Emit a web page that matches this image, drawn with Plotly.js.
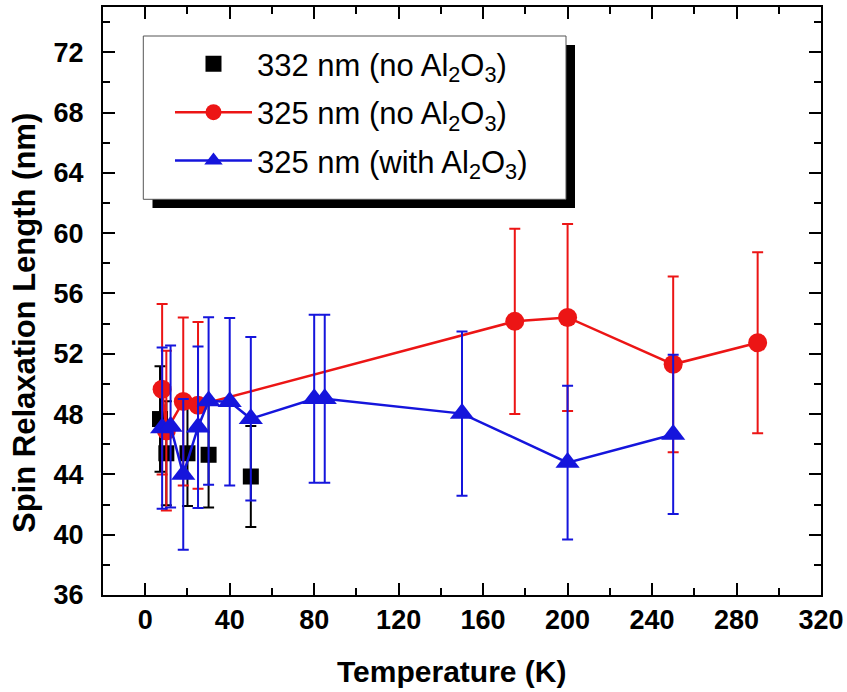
<!DOCTYPE html>
<html>
<head>
<meta charset="utf-8">
<script src="https://cdn.plot.ly/plotly-3.0.1.min.js"></script>
<style>html,body{margin:0;padding:0;background:#fff;}#chart{width:847px;height:692px;}</style>
</head>
<body>
<div id="chart"></div>
<script>
// Series: 332 nm (no Al2O3)
const tBlack = [7, 10, 20, 30, 50];
const lBlack = [47.67, 45.4, 45.4, 45.3, 43.86];
const eBlack = [3.5, 3.45, 3.5, 3.5, 3.35];

// Series: 325 nm (no Al2O3)
const tRed = [8, 10, 18, 25, 175, 200, 250, 290];
const lRed = [49.65, 46.9, 48.84, 48.58, 54.15, 54.41, 51.3, 52.73];
const eRed = [5.65, 5.3, 5.57, 5.53, 6.15, 6.2, 5.83, 6.0];

// Series: 325 nm (with Al2O3)
const tBlue = [8, 12, 18, 25, 30, 40, 50, 80, 85, 150, 200, 250];
const lBlue = [47.07, 47.18, 44.0, 47.13, 48.87, 48.82, 47.69, 49.02, 49.02, 48.03, 44.78, 46.65];
const eBlue = [5.35, 5.37, 5.0, 5.36, 5.56, 5.55, 5.42, 5.57, 5.57, 5.45, 5.1, 5.28];

const names = [
  '332 nm (no Al<sub>2</sub>O<sub>3</sub>)',
  '325 nm (no Al<sub>2</sub>O<sub>3</sub>)',
  '325 nm (with Al<sub>2</sub>O<sub>3</sub>)'
];

const xTicks = [0, 40, 80, 120, 160, 200, 240, 280, 320];
const yTicks = [36, 40, 44, 48, 52, 56, 60, 64, 68, 72];

const xTitle = 'Temperature (K)';
const yTitle = 'Spin Relaxation Length (nm)';

const FONT = 'Liberation Sans, Arial, Helvetica, sans-serif';

const traces = [
  {
    x: tBlack, y: lBlack, name: names[0], legendgroup: 'a', type: 'scatter', mode: 'markers',
    marker: {symbol: 'square', size: 16, color: '#000000'},
    error_y: {type: 'data', array: eBlack, visible: true, color: '#000000', thickness: 2, width: 5.5}
  },
  {
    x: tRed, y: lRed, name: names[1], legendgroup: 'b', type: 'scatter', mode: 'lines+markers',
    line: {color: '#ec1515', width: 2.5},
    marker: {symbol: 'circle', size: 19, color: '#ec1515'},
    error_y: {type: 'data', array: eRed, visible: true, color: '#ec1515', thickness: 2, width: 5.5}
  },
  {
    x: tBlue, y: lBlue, name: names[2], legendgroup: 'c', type: 'scatter', mode: 'lines+markers',
    line: {color: '#1515dc', width: 2.5},
    marker: {symbol: 'triangle-up', size: 21, color: '#1515dc'},
    error_y: {type: 'data', array: eBlue, visible: true, color: '#1515dc', thickness: 2, width: 5.5}
  }
];

const axisCommon = {
  showline: true, linecolor: '#000', linewidth: 2, mirror: 'allticks',
  ticks: 'inside', ticklen: 12, tickwidth: 2, tickcolor: '#000',
  showgrid: false, zeroline: false,
  tickfont: {family: FONT, size: 27, color: '#000', weight: 'bold'}
};

const layout = {
  width: 847, height: 692,
  margin: {l: 103, r: 26, t: 7, b: 97},
  paper_bgcolor: '#fff', plot_bgcolor: '#fff',
  showlegend: true,
  xaxis: Object.assign({}, axisCommon, {
    range: [-20, 320], tickmode: 'array', tickvals: xTicks, ticktext: xTicks.map(String),
    ticklabelstandoff: 0,
    minor: {dtick: 20, ticks: 'inside', ticklen: 7, tickwidth: 2, tickcolor: '#000', showgrid: false}
  }),
  yaxis: Object.assign({}, axisCommon, {
    range: [36, 75], tickmode: 'array', tickvals: yTicks, ticktext: yTicks.map(String),
    ticklabelstandoff: 12,
    minor: {dtick: 2, ticks: 'inside', ticklen: 7, tickwidth: 2, tickcolor: '#000', showgrid: false}
  }),
  legend: {
    x: 0.0933, y: 0.9486, xanchor: 'left', yanchor: 'top',
    bgcolor: 'rgba(0,0,0,0)', borderwidth: 0,
    font: {family: FONT, size: 31, color: '#000'},
    itemwidth: 77, traceorder: 'grouped', tracegroupgap: 5
  },
  annotations: [
    {text: xTitle, xref: 'paper', yref: 'paper', x: 0.486, y: (595 - 671) / 588,
     xanchor: 'center', yanchor: 'middle', showarrow: false,
     font: {family: FONT, size: 30, color: '#000', weight: 'bold'}},
    {text: yTitle, xref: 'paper', yref: 'paper', x: (25 - 103) / 718, y: (595 - 323) / 588,
     xanchor: 'center', yanchor: 'middle', showarrow: false, textangle: -90,
     font: {family: FONT, size: 31, color: '#000', weight: 'bold'}}
  ],
  shapes: [
    {type: 'rect', xref: 'paper', yref: 'paper', layer: 'above',
     x0: (152.5 - 103) / 718, x1: (575 - 103) / 718,
     y0: (595 - 208) / 588, y1: (595 - 45) / 588,
     fillcolor: '#000', line: {width: 0}},
    {type: 'rect', xref: 'paper', yref: 'paper', layer: 'above',
     x0: (143.3 - 103) / 718, x1: (566 - 103) / 718,
     y0: (595 - 199.3) / 588, y1: (595 - 36) / 588,
     fillcolor: '#fff', line: {width: 1, color: '#555'}}
  ]
};

Plotly.newPlot('chart', traces, layout, {displayModeBar: false, staticPlot: true});
</script>
</body>
</html>
